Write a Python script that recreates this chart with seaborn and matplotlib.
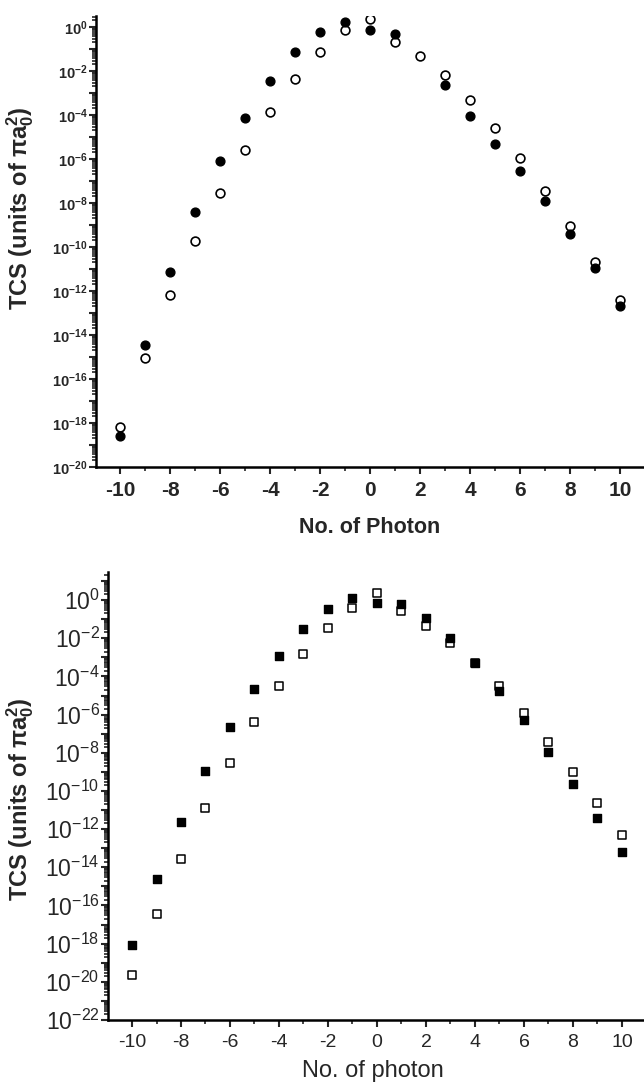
import numpy as np
import pandas as pd
import matplotlib
matplotlib.use("Agg")
import matplotlib.pyplot as plt
import matplotlib.ticker as mticker
import seaborn as sns

sns.set_style("ticks")
plt.rcParams['font.family'] = ['Liberation Sans', 'DejaVu Sans']
plt.rcParams['mathtext.fontset'] = 'custom'
plt.rcParams['mathtext.rm'] = 'Liberation Sans'
plt.rcParams['mathtext.it'] = 'Liberation Sans:italic'
plt.rcParams['mathtext.bf'] = 'Liberation Sans:bold'
plt.rcParams['axes.unicode_minus'] = False

# ---------------- data ----------------
photons = list(range(-10, 11))

# top panel (log10 of TCS)
top_filled_log = [-18.6, -14.45, -11.14, -8.4, -6.1, -4.14, -2.45, -1.14, -0.23, 0.23, -0.14,
                  -0.32, np.nan, -2.64, -4.05, -5.32, -6.55, -7.9, -9.4, -10.95, -12.68]
top_open_log = [-18.2, -15.05, -12.2, -9.73, -7.55, -5.6, -3.86, -2.36, -1.14, -0.14, 0.36,
                -0.68, -1.32, -2.18, -3.32, -4.6, -5.95, -7.45, -9.05, -10.68, -12.4]

# bottom panel (log10 of TCS)
bot_filled_log = [-18.07, -14.6, -11.63, -8.96, -6.65, -4.66, -2.93, -1.52, -0.47, 0.1, -0.16,
                  -0.21, -0.94, -1.99, -3.3, -4.77, -6.28, -7.96, -9.64, -11.42, -13.2]
bot_open_log = [-19.64, -16.45, -13.57, -10.9, -8.54, -6.39, -4.5, -2.83, -1.47, -0.42, 0.37,
                -0.58, -1.36, -2.25, -3.3, -4.5, -5.92, -7.44, -9.0, -10.63, -12.31]

ylabel_text = r'TCS (units of π$\mathbf{a}_{\mathbf{0}}^{\mathbf{2}}$)'
top_xlabel = 'No. of Photon'
bot_xlabel = 'No. of photon'

top_df = pd.DataFrame({'n': photons,
                       'filled': np.power(10.0, top_filled_log),
                       'open': np.power(10.0, top_open_log)})
bot_df = pd.DataFrame({'n': photons,
                       'filled': np.power(10.0, bot_filled_log),
                       'open': np.power(10.0, bot_open_log)})

fig = plt.figure(figsize=(6.44, 10.91), dpi=100)

ax1 = fig.add_axes([96/644, 1 - 467/1091, (644-96)/644, (467-16)/1091])
ax2 = fig.add_axes([108/644, 1 - 1020/1091, (644-108)/644, (1020-572)/1091])


def style_axes(ax, ymin_exp, ymax_exp, xlim, bold, ytick_fs, xtick_fs):
    ax.set_yscale('log')
    ax.set_xlim(*xlim)
    ax.set_ylim(10.0**ymin_exp, 10.0**ymax_exp)
    for s in ['top', 'right']:
        ax.spines[s].set_visible(False)
    for s in ['left', 'bottom']:
        ax.spines[s].set_linewidth(1.8)
        ax.spines[s].set_color('black')
    lo = int(np.ceil(ymin_exp))
    hi = int(np.floor(ymax_exp))
    ax.yaxis.set_major_locator(mticker.FixedLocator([10.0**e for e in range(lo, hi + 1)]))
    ax.yaxis.set_minor_locator(mticker.LogLocator(base=10, subs=np.arange(2, 10), numticks=100))
    ax.yaxis.set_minor_formatter(mticker.NullFormatter())

    def fmt(v, pos):
        e = int(round(np.log10(v)))
        if e % 2 != 0:
            return ''
        if bold:
            return r'$\mathbf{10^{%d}}$' % e
        return r'$\mathrm{10^{%d}}$' % e
    ax.yaxis.set_major_formatter(mticker.FuncFormatter(fmt))
    ax.xaxis.set_major_locator(mticker.MultipleLocator(2))
    ax.xaxis.set_minor_locator(mticker.MultipleLocator(1))
    ax.tick_params(axis='y', which='major', direction='out', length=5, width=1.5,
                   labelsize=ytick_fs, pad=1)
    ax.tick_params(axis='y', which='minor', direction='out', length=3, width=1.2)
    ax.tick_params(axis='x', which='major', direction='out', length=5, width=1.5,
                   labelsize=xtick_fs, pad=5)
    ax.tick_params(axis='x', which='minor', direction='out', length=3, width=1.2)


# -------- top panel --------
sns.scatterplot(data=top_df, x='n', y='open', marker='o', s=40, color='white',
                edgecolor='black', linewidth=1.2, ax=ax1, zorder=3)
sns.scatterplot(data=top_df, x='n', y='filled', marker='o', s=40, color='black',
                edgecolor='black', linewidth=1.0, ax=ax1, zorder=4)
style_axes(ax1, -20, 0.5, (-10.96, 10.96), True, 10.5, 15)
for lab in ax1.get_xticklabels():
    lab.set_fontweight('bold')
ax1.set_xlabel(top_xlabel, fontsize=15.5, fontweight='bold')
ax1.set_ylabel(ylabel_text, fontsize=17, fontweight='bold')
ax1.xaxis.set_label_coords(0.5, -0.11)
ax1.yaxis.set_label_coords(-0.11, 0.574)

# -------- bottom panel --------
sns.scatterplot(data=bot_df, x='n', y='open', marker='s', s=26, color='white',
                edgecolor='black', linewidth=1.1, ax=ax2, zorder=3)
sns.scatterplot(data=bot_df, x='n', y='filled', marker='s', s=26, color='black',
                edgecolor='black', linewidth=1.0, ax=ax2, zorder=4)
style_axes(ax2, -22, 1.47, (-10.98, 10.9), False, 16.5, 14)
ax2.set_xlabel(bot_xlabel, fontsize=17)
ax2.set_ylabel(ylabel_text, fontsize=17, fontweight='bold')
ax2.xaxis.set_label_coords(0.495, -0.09)
ax2.yaxis.set_label_coords(-0.135, 0.493)

fig.savefig('out.png', dpi=100)
